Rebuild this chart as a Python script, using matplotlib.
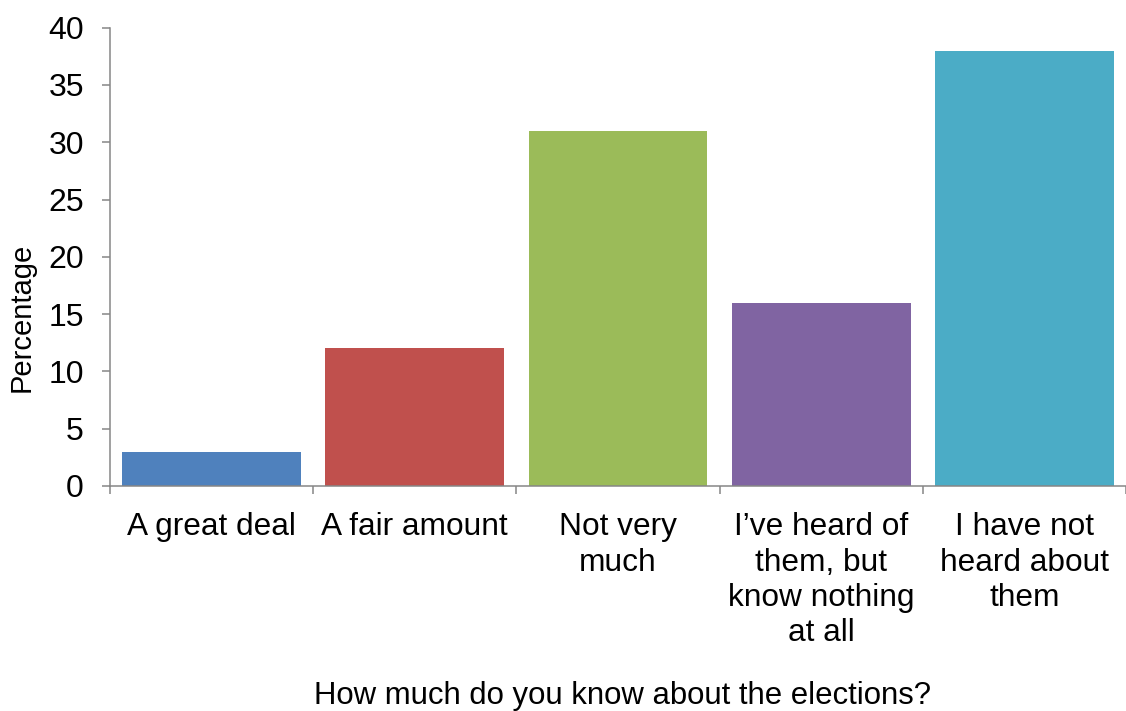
import matplotlib
matplotlib.use("Agg")
import matplotlib.pyplot as plt
import numpy as np

categories = ["A great deal", "A fair amount", "Not very\nmuch",
              "I\u2019ve heard of\nthem, but\nknow nothing\nat all",
              "I have not\nheard about\nthem"]
percentages = [3, 12, 31, 16, 38]
bar_colors = ["#4F81BD", "#C0504D", "#9BBB59", "#8064A2", "#4BACC6"]
y_ticks = [0, 5, 10, 15, 20, 25, 30, 35, 40]

plt.rcParams["font.family"] = ["Liberation Sans", "DejaVu Sans"]
axis_grey = "#868686"

fig = plt.figure(figsize=(11.26, 7.11), dpi=100)
ax = fig.add_axes([0.0977, 0.3165, 0.9023, 0.6446])

x = np.arange(len(categories))
ax.bar(x, percentages, width=0.88, color=bar_colors, zorder=2)

# last category slot runs slightly past the right edge
ax.set_xlim(-0.5, 4.468)
ax.set_ylim(0, 40)

ax.set_yticks(y_ticks)
ax.tick_params(axis="y", direction="out", length=5.8, width=1.1,
               color=axis_grey, labelsize=23, pad=13)

ax.set_xticks(x)
ax.set_xticklabels(categories, fontsize=22.8, linespacing=1.23, va="top")
ax.tick_params(axis="x", which="major", length=0, pad=19)
ax.set_xticks(np.arange(-0.5, len(categories), 1.0), minor=True)
ax.tick_params(axis="x", which="minor", direction="out", length=5.8,
               width=1.1, color=axis_grey)

for side in ["top", "right"]:
    ax.spines[side].set_visible(False)
for side in ["left", "bottom"]:
    ax.spines[side].set_color(axis_grey)
    ax.spines[side].set_linewidth(1.1)

ax.set_ylabel("Percentage", fontsize=21)
ax.yaxis.set_label_coords(-0.073, 0.367)
ax.set_xlabel("How much do you know about the elections?", fontsize=22.4)
ax.xaxis.set_label_coords(0.504, -0.425)

fig.savefig("out.png", dpi=100)
